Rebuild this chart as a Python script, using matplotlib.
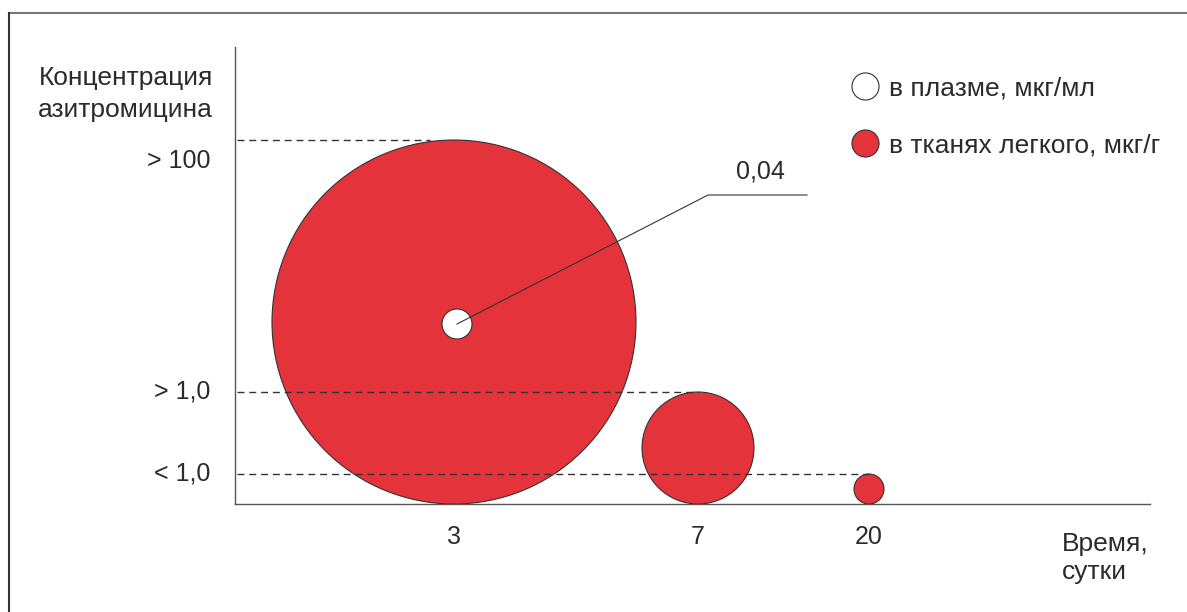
import matplotlib
matplotlib.use("Agg")
import matplotlib.pyplot as plt
from matplotlib.patches import Circle
from matplotlib.lines import Line2D

plt.rcParams['font.family'] = ['Liberation Sans', 'DejaVu Sans']

# data
days = ['3', '7', '20']
day_pos = [219, 463, 634]             # horizontal place of each day on the axis
tissue_labels = ['> 100', '> 1,0', '< 1,0']
tissue_radius = [182, 56, 15]         # bubble radius, lung tissue (мкг/г)
plasma_label = '0,04'
plasma_radius = 15                    # bubble radius, plasma (мкг/мл), day 3 only

RED = '#e4333a'
TXT = '#2b2b2b'
FS = 19      # words
FN = 18      # numbers

fig = plt.figure(figsize=(11.87, 6.12), dpi=100)
W, H = 1187, 612
ax = fig.add_axes([235 / W, 1 - 504 / H, 915 / W, 457 / H])
ax.set_xlim(0, 915)
ax.set_ylim(0, 457)
ax.set_aspect('equal')

for s in ['top', 'right']:
    ax.spines[s].set_visible(False)
for s in ['left', 'bottom']:
    ax.spines[s].set_color('#555555')
    ax.spines[s].set_linewidth(1.0)

# tissue bubbles sit on the time axis
for x, r in zip(day_pos, tissue_radius):
    ax.add_patch(Circle((x, r), r, facecolor=RED, edgecolor='#333333', lw=0.8, zorder=3))

# plasma bubble inside the day-3 bubble
px, py = day_pos[0] + 3, tissue_radius[0] - 2
ax.add_patch(Circle((px, py), plasma_radius, facecolor='white', edgecolor='#333333', lw=0.8, zorder=4))

# dashed level lines from the axis to the top of each bubble (drawn over bubbles)
dash_end = [day_pos[0] - 24, day_pos[1], day_pos[2]]
for r, xe in zip(tissue_radius, dash_end):
    ax.plot([2, xe], [2 * r, 2 * r], color='#333333', lw=1.0,
            linestyle=(0, (5, 3.5)), zorder=6)

# level labels on the y axis
offsets = [-15, 0, 0]
for r, lab, off in zip(tissue_radius, tissue_labels, offsets):
    ax.annotate(lab, xy=(0, 2 * r), xytext=(-18, off), textcoords='offset points',
                ha='right', va='center', fontsize=FN, color=TXT, annotation_clip=False)

# leader line to the plasma value
ax.plot([px, 473, 572], [py, 309, 309], color='#333333', lw=0.8, zorder=7)
ax.text(525, 332, plasma_label, ha='center', va='center', fontsize=FN, color=TXT)

ax.set_yticks([])
ax.set_xticks(day_pos)
ax.set_xticklabels(days, fontsize=FN, color=TXT)
ax.tick_params(axis='x', length=0, pad=15)

fig.text(213 / W, 1 - 94 / H, 'Концентрация\nазитромицина', ha='right', va='center',
         fontsize=FS, color=TXT, linespacing=1.37)
fig.text(1062 / W, 1 - 558 / H, 'Время,\nсутки', ha='left', va='center',
         fontsize=FS, color=TXT, linespacing=1.25)

handles = [
    Line2D([], [], marker='o', ls='none', markersize=19.5, markerfacecolor='white',
           markeredgecolor='#333333', markeredgewidth=0.8),
    Line2D([], [], marker='o', ls='none', markersize=19.5, markerfacecolor=RED,
           markeredgecolor='#333333', markeredgewidth=0.8),
]
fig.legend(handles, ['в плазме, мкг/мл', 'в тканях легкого, мкг/г'],
           loc='upper left', bbox_to_anchor=(836 / W, 1 - 63 / H), frameon=False,
           fontsize=FS, labelcolor=TXT, labelspacing=1.25, handletextpad=0.3,
           borderpad=0, handlelength=1.2)

# outer frame (top and left edges only are visible)
fig.add_artist(Line2D([9 / W, 1], [1 - 12.5 / H, 1 - 12.5 / H], color='#777777', lw=1.5))
fig.add_artist(Line2D([9 / W, 9 / W], [0, 1 - 12.5 / H], color='#333333', lw=1.5))

fig.savefig('out.png', dpi=100, facecolor='white')
